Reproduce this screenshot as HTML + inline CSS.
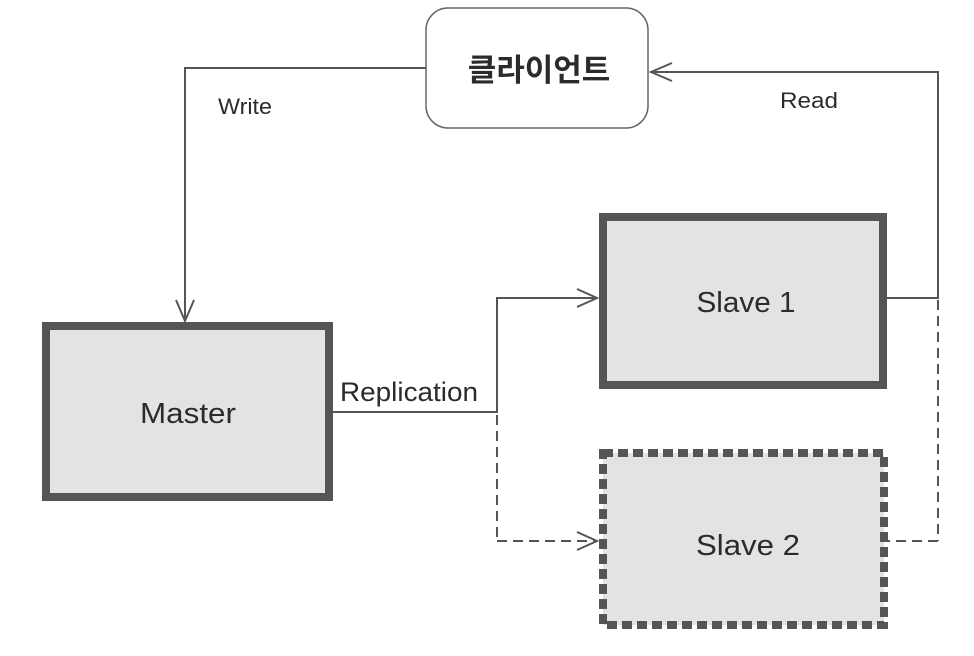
<!DOCTYPE html>
<html><head><meta charset="utf-8"><style>
html,body{margin:0;padding:0;background:#fff;}
svg{display:block;}
text{font-family:"Liberation Sans","Noto Sans CJK KR",sans-serif;fill:#2b2b2b;}
</style></head><body>
<svg width="974" height="656" viewBox="0 0 974 656" xmlns="http://www.w3.org/2000/svg">
<rect x="426" y="8" width="222" height="120" rx="22" ry="22" fill="#fff" stroke="#666" stroke-width="1.5"/>
<text x="539" y="81" font-size="31" font-weight="bold" text-anchor="middle">클라이언트</text>
<polyline points="426,68 185,68 185,321" fill="none" stroke="#555" stroke-width="2"/>
<polyline points="176,300 185,321 194,300" fill="none" stroke="#555" stroke-width="2"/>
<text x="218" y="114" font-size="22" textLength="54" lengthAdjust="spacingAndGlyphs">Write</text>
<polyline points="886,298 938,298 938,72 651,72" fill="none" stroke="#555" stroke-width="2"/>
<polyline points="672,63 651,72 672,81" fill="none" stroke="#555" stroke-width="2"/>
<text x="780" y="108" font-size="22" textLength="58" lengthAdjust="spacingAndGlyphs">Read</text>
<line x1="938" y1="300" x2="938" y2="541" stroke="#555" stroke-width="2" stroke-dasharray="10,6"/>
<line x1="938" y1="541" x2="888" y2="541" stroke="#555" stroke-width="2" stroke-dasharray="10,6"/>
<polyline points="333,412 497,412 497,298 597,298" fill="none" stroke="#555" stroke-width="2"/>
<polyline points="577,289 597,298 577,307" fill="none" stroke="#555" stroke-width="2"/>
<line x1="497" y1="415" x2="497" y2="541" stroke="#555" stroke-width="2" stroke-dasharray="10,6"/>
<line x1="497" y1="541" x2="597" y2="541" stroke="#555" stroke-width="2" stroke-dasharray="10,6"/>
<polyline points="577,532 597,541 577,550" fill="none" stroke="#555" stroke-width="2"/>
<text x="340" y="401" font-size="27" textLength="138" lengthAdjust="spacingAndGlyphs">Replication</text>
<rect x="46" y="326" width="283" height="171" fill="#e3e3e3" stroke="#555" stroke-width="8"/>
<text x="188" y="423" font-size="29" text-anchor="middle" textLength="96" lengthAdjust="spacingAndGlyphs">Master</text>
<rect x="603" y="217" width="280" height="168" fill="#e3e3e3" stroke="#555" stroke-width="8"/>
<text x="746" y="312" font-size="29" text-anchor="middle" textLength="99" lengthAdjust="spacingAndGlyphs">Slave 1</text>
<rect x="603" y="453" width="281" height="172" fill="#e3e3e3" stroke="#555" stroke-width="8" stroke-dasharray="10,5"/>
<text x="748" y="555" font-size="29" text-anchor="middle" textLength="104" lengthAdjust="spacingAndGlyphs">Slave 2</text>
</svg>
</body></html>
